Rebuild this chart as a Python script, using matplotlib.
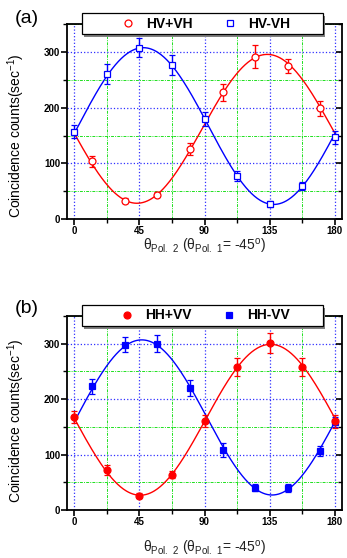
import numpy as np
import matplotlib
matplotlib.use("Agg")
import matplotlib.pyplot as plt
from matplotlib.patches import Rectangle
from matplotlib.ticker import MultipleLocator

plt.rcParams['font.family'] = ['Liberation Sans', 'DejaVu Sans']
plt.rcParams['mathtext.fontset'] = 'custom'
plt.rcParams['mathtext.rm'] = 'Liberation Sans'

# ---- panel (a) ----
a_plus_x = [12.5, 35, 57.5, 80, 102.5, 125, 147.5, 170]
a_plus_y = [104, 33, 44, 126, 228, 292, 275, 199]
a_plus_err = [10, 5, 5, 11, 15, 20, 13, 14]

a_minus_x = [0, 22.5, 45, 67.5, 90, 112.5, 135, 157.5, 180]
a_minus_y = [157, 260, 308, 276, 180, 77, 27, 59, 147]
a_minus_err = [12, 18, 17, 18, 12, 9, 6, 7, 12]

# ---- panel (b) ----
b_plus_x = [0, 22.5, 45, 67.5, 90, 112.5, 135, 157.5, 180]
b_plus_y = [167, 73, 26, 64, 161, 258, 301, 258, 160]
b_plus_err = [11, 9, 5, 7, 11, 16, 18, 16, 12]

b_minus_x = [12.5, 35, 57.5, 80, 102.5, 125, 147.5, 170, 180]
b_minus_y = [223, 298, 300, 220, 108, 40, 39, 106, 158]
b_minus_err = [13, 14, 15, 15, 12, 6, 7, 9, 9]


def sine_fit(x, y, e):
    # weighted least squares fit of A + B cos(2t) + C sin(2t)
    t = np.radians(np.asarray(x, float))
    w = 1.0 / np.asarray(e, float)
    M = np.column_stack([np.ones_like(t), np.cos(2 * t), np.sin(2 * t)])
    coef, *_ = np.linalg.lstsq(M * w[:, None], np.asarray(y, float) * w, rcond=None)
    xs = np.linspace(0, 180, 361)
    ts = np.radians(xs)
    return xs, coef[0] + coef[1] * np.cos(2 * ts) + coef[2] * np.sin(2 * ts)


def draw_panel(ax, series, labels, filled, labelpad, ylab_y):
    handles = {}
    for x, y, e, color, marker, label in series:
        xs, ys = sine_fit(x, y, e)
        ax.plot(xs, ys, color=color, lw=1.0, zorder=3)
        face = color if filled else 'white'
        h = ax.errorbar(x, y, yerr=e, fmt=marker, color=color, mfc=face,
                        mec=color, ms=5, mew=0.9, elinewidth=1.0,
                        capsize=2.2, capthick=1.0, zorder=4, label=label)
        handles[label] = h

    ax.set_xlim(-5, 185)
    ax.set_ylim(0, 350)
    ax.xaxis.set_major_locator(MultipleLocator(45))
    ax.xaxis.set_minor_locator(MultipleLocator(22.5))
    ax.yaxis.set_major_locator(MultipleLocator(100))
    ax.yaxis.set_minor_locator(MultipleLocator(50))
    ax.set_yticks([0, 100, 200, 300])

    ax.grid(which='major', color='#3030ff', ls=':', lw=0.9)
    ax.grid(which='minor', color='#20e020', ls=(0, (3, 1.2, 1, 1.2)), lw=0.7)
    ax.set_axisbelow(True)

    for s in ax.spines.values():
        s.set_linewidth(1.3)
    ax.tick_params(which='major', direction='out', length=4, width=1.2,
                   labelsize=7, pad=1, right=True)
    ax.tick_params(which='minor', direction='out', length=3, width=1.0,
                   right=True)
    for lab in ax.get_xticklabels() + ax.get_yticklabels():
        lab.set_fontweight('bold')
    # right side ticks point inward
    for t in ax.yaxis.get_major_ticks() + ax.yaxis.get_minor_ticks():
        t.tick2line.set_marker(matplotlib.lines.TICKLEFT)

    ax.set_ylabel('Coincidence counts(sec$^{-1}$)', fontsize=10)
    ax.yaxis.set_label_coords(-0.145, ylab_y)
    ax.set_xlabel('θ$_{\\rm Pol.\\ 2}$ (θ$_{\\rm Pol.\\ 1}$= -45$^{\\rm o}$)',
                  fontsize=10, labelpad=labelpad, color='#222222')

    # legend box with shadow, sitting on top spine
    bx, by, bw, bh = 0.0545, 0.948, 0.876, 0.108
    ax.add_patch(Rectangle((bx + 0.008, by - 0.014), bw, bh,
                           transform=ax.transAxes, facecolor='#808080',
                           edgecolor='none', clip_on=False, zorder=6))
    ax.add_patch(Rectangle((bx, by), bw, bh, transform=ax.transAxes,
                           facecolor='white', edgecolor='black', lw=0.9,
                           clip_on=False, zorder=6))
    leg = ax.legend([handles[l][0] for l in labels], labels, ncol=2,
                    loc='center', bbox_to_anchor=(bx + bw / 2 + 0.01, by + bh / 2),
                    frameon=False, numpoints=1, handlelength=1.0,
                    handletextpad=0.8, columnspacing=2.2,
                    prop={'weight': 'bold', 'size': 10})
    leg.set_zorder(7)


fig = plt.figure(figsize=(3.47, 5.58), dpi=100)
ax1 = fig.add_axes([0.193, 0.6075, 0.793, 0.349])
ax2 = fig.add_axes([0.193, 0.086, 0.793, 0.348])

draw_panel(ax1,
           [(a_plus_x, a_plus_y, a_plus_err, 'red', 'o', 'HV+VH'),
            (a_minus_x, a_minus_y, a_minus_err, 'blue', 's', 'HV-VH')],
           ['HV+VH', 'HV-VH'], filled=False, labelpad=1, ylab_y=0.43)
draw_panel(ax2,
           [(b_minus_x, b_minus_y, b_minus_err, 'blue', 's', 'HH-VV'),
            (b_plus_x, b_plus_y, b_plus_err, 'red', 'o', 'HH+VV')],
           ['HH+VV', 'HH-VV'], filled=True, labelpad=9, ylab_y=0.46)

fig.text(0.043, 0.966, '(a)', fontsize=14, va='center', ha='left')
fig.text(0.043, 0.447, '(b)', fontsize=14, va='center', ha='left')

fig.savefig('out.png', dpi=100)
